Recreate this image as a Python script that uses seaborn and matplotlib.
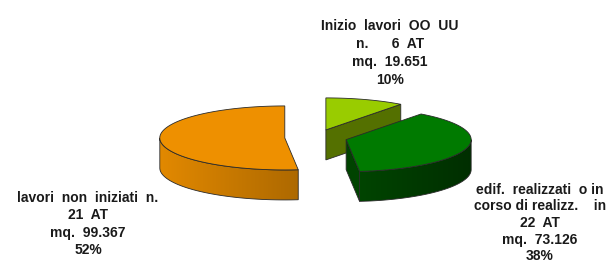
# -*- coding: utf-8 -*-
# Exploded 3D-style pie: state of works per area (AT)
import numpy as np
import matplotlib.pyplot as plt
import matplotlib.colors as mcolors
from matplotlib.patches import Polygon
import seaborn as sns

sns.set_theme(style="white")
plt.rcParams["font.family"] = ["Liberation Sans", "DejaVu Sans"]

# data (clockwise from 12 o'clock)
names = ["Inizio  lavori  OO  UU\nn.      ", "edif.  realizzati  o in\ncorso di realizz.    in\n",
         "lavori  non  iniziati  n.\n"]
n_at = [6, 22, 21]
mq = [19651, 73126, 99367]
colors = ["#99CC00", "#007A00", "#EE9000"]
side_light = [0.75, 0.58, 0.75]

# layout
cx, cy = 316, 137.5
rx, ry = 125, 32
depth = 30
explode = 0.25

fig = plt.figure(figsize=(6.1, 2.68), dpi=100)
ax = fig.add_axes([0, 0, 1, 1])
ax.axis("off")

total = sum(mq)
pct = [v / total * 100 for v in mq]
bounds = np.concatenate([[0], np.cumsum(pct) * 3.6])


def pt(x0, y0, th):
    t = np.radians(th)
    return x0 + rx * np.sin(t), y0 - ry * np.cos(t)


def shade(c, f):
    r, g, b = mcolors.to_rgb(c)
    return (r * f, g * f, b * f)


wedges = []
for i in range(len(mq)):
    t1, t2 = bounds[i], bounds[i + 1]
    m = np.radians((t1 + t2) / 2)
    x0 = cx + explode * rx * np.sin(m)
    y0 = cy - explode * ry * np.cos(m)
    wedges.append((i, t1, t2, x0, y0))

edge = "#2a2a2a"
# back to front
for i, t1, t2, x0, y0 in [wedges[0], wedges[2], wedges[1]]:
    col = colors[i]
    # outer side (front half only), shaded left to right
    a, b = max(t1, 90), min(t2, 270)
    if b > a:
        ths = np.linspace(a, b, int(b - a) + 2)
        top = [pt(x0, y0, t) for t in ths]
        bot = [(x, y + depth) for x, y in top[::-1]]
        side = Polygon(top + bot, closed=True, fc="none", ec=edge, lw=0.6)
        xs = [p[0] for p in top]
        ys = [p[1] for p in top + bot]
        gx = np.linspace(min(xs), max(xs), 200)
        f = side_light[i] - 0.2 * (gx - x0) / rx
        grad = np.array([[shade(col, v) for v in f]])
        im = ax.imshow(grad, extent=(min(xs), max(xs), max(ys), min(ys)),
                       aspect="auto", interpolation="bilinear", zorder=1)
        ax.add_patch(side)
        im.set_clip_path(side)
    # radial walls facing the viewer
    for th, nrm in [(t1, t1 - 90), (t2, t2 + 90)]:
        if np.cos(np.radians(nrm)) < -1e-6:
            p = pt(x0, y0, th)
            ax.add_patch(Polygon([(x0, y0), p, (p[0], p[1] + depth), (x0, y0 + depth)],
                                 closed=True, fc=shade(col, 0.55), ec=edge, lw=0.6, zorder=1))
    # top face
    ths = np.linspace(t1, t2, int(t2 - t1) + 2)
    ax.add_patch(Polygon([(x0, y0)] + [pt(x0, y0, t) for t in ths],
                         closed=True, fc=col, ec=edge, lw=0.6, zorder=1))


def fmt(v):
    return f"{v:,}".replace(",", ".")


labels = [f"{names[i]}{n_at[i]}  AT\nmq.  {fmt(mq[i])}\n{pct[i]:.0f}%" for i in range(3)]
label_pos = [(390, 53), (540, 223), (88, 224)]
label_ls = [1.38, 1.25, 1.32]
for lab, (x, y), ls in zip(labels, label_pos, label_ls):
    ax.text(x, y, lab, ha="center", va="center", fontsize=10, fontweight="bold",
            color="#1a1a1a", linespacing=ls)

ax.set_xlim(0, 610)
ax.set_ylim(268, 0)
fig.savefig("out.png", dpi=100)
